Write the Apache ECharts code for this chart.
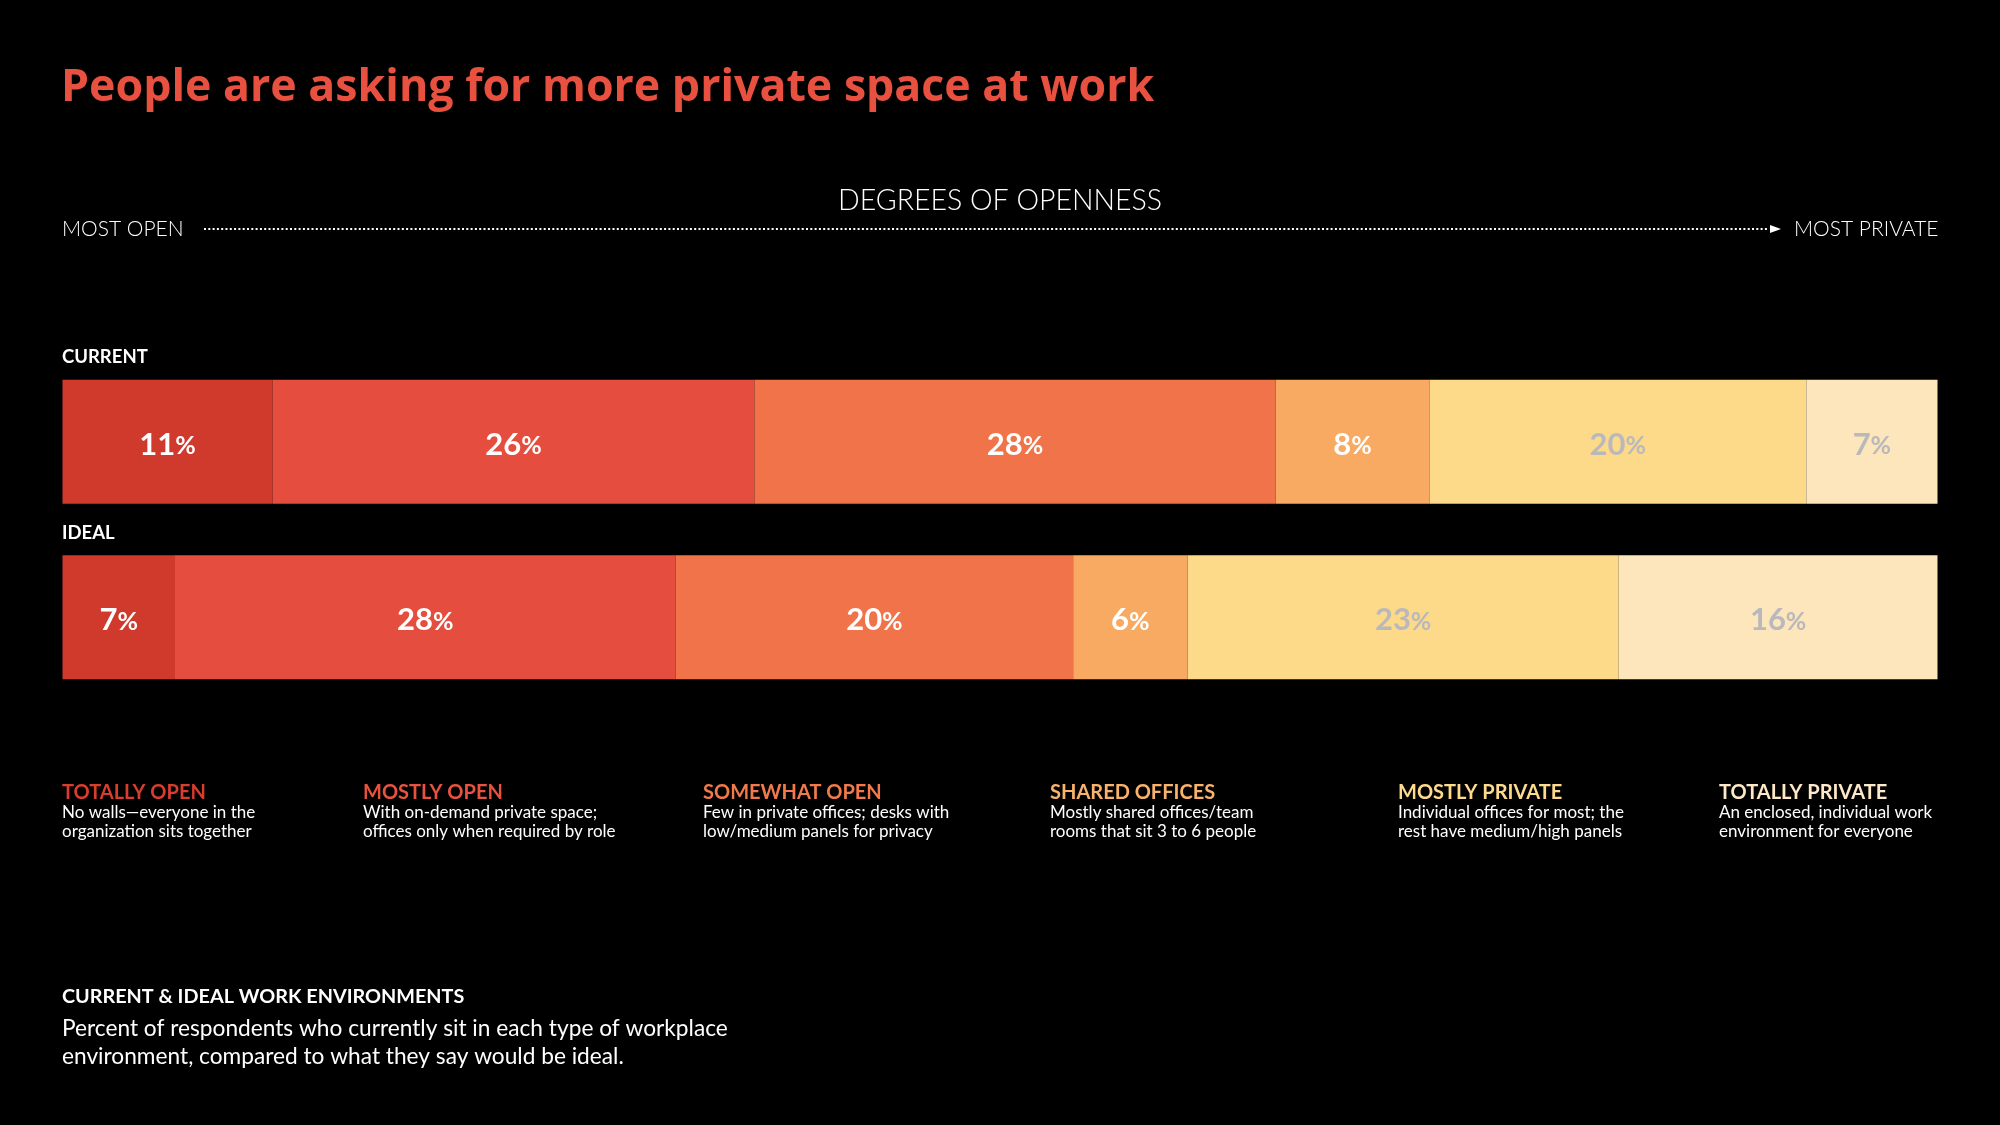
<!DOCTYPE html>
<html>
<head>
<meta charset="utf-8">
<script src="https://cdn.jsdelivr.net/npm/echarts@6/dist/echarts.min.js"></script>
<style>
html,body{margin:0;padding:0;background:#000;}
#chart{width:2000px;height:1125px;}
</style>
</head>
<body>
<div id="chart"></div>
<script>
// ---- data ----
const rows = ['CURRENT', 'IDEAL'];
const types = ['TOTALLY OPEN', 'MOSTLY OPEN', 'SOMEWHAT OPEN', 'SHARED OFFICES', 'MOSTLY PRIVATE', 'TOTALLY PRIVATE'];
// segment shares as drawn in the picture (bar widths)
const currentValues = [11.2, 25.7, 27.8, 8.2, 20.1, 7.0];
const idealValues = [6.0, 26.7, 21.2, 6.1, 23.0, 17.0];
// percentages printed on the segments
const currentLabels = [11, 26, 28, 8, 20, 7];
const idealLabels = [7, 28, 20, 6, 23, 16];
const descriptions = [
  ['No walls\u2014everyone in the', 'organization sits together'],
  ['With on-demand private space;', 'offices only when required by role'],
  ['Few in private offices; desks with', 'low/medium panels for privacy'],
  ['Mostly shared offices/team', 'rooms that sit 3 to 6 people'],
  ['Individual offices for most; the', 'rest have medium/high panels'],
  ['An enclosed, individual work', 'environment for everyone']
];

// ---- styles ----
const FONT = 'Lato';
const barColors = ['#CF3A2C', '#E54E3E', '#F07349', '#F8A962', '#FDD98A', '#FDE5BC'];
const labelColors = ['#FFFFFF', '#FFFFFF', '#FFFFFF', '#FFFFFF', '#B9B9BC', '#B9B9BC'];
const headColors = ['#D83D2E', '#E8533F', '#F07A4C', '#F8B26C', '#FDDA8C', '#FDE9C8'];
const legendX = [62, 363, 703, 1050, 1398, 1719];
const labelSets = [currentLabels, idealLabels];

const series = types.map((t, i) => ({
  name: t,
  type: 'bar',
  stack: 'all',
  barWidth: 124,
  data: [currentValues[i], idealValues[i]],
  itemStyle: { color: barColors[i] },
  emphasis: { disabled: true },
  label: {
    show: true,
    position: 'inside',
    offset: [0, 3],
    formatter: p => '{n|' + labelSets[p.dataIndex][i] + '}{p|%}',
    rich: {
      n: { fontFamily: FONT, fontWeight: 'bold', fontSize: 31, color: labelColors[i] },
      p: { fontFamily: FONT, fontWeight: 'bold', fontSize: 25, color: labelColors[i], padding: [3, 0, 0, 0] }
    }
  }
}));

const graphics = [];
function txt(text, x, y, size, color, weight, align, family) {
  graphics.push({
    type: 'text', x: x, y: y, silent: true,
    style: { text: text, fontFamily: family || FONT, fontSize: size, fill: color, fontWeight: weight || 'normal',
      textAlign: align || 'left', textVerticalAlign: 'middle' }
  });
}
txt('People are asking for more private space at work', 61, 88, 44.7, '#E8503F', 'bold', 'left', 'Open Sans');
txt('DEGREES OF OPENNESS', 1000, 201, 28.5, '#FFFFFF', 300, 'center');
txt('MOST OPEN', 62, 229, 21, '#FFFFFF', 300);
txt('MOST PRIVATE', 1794, 229, 21, '#FFFFFF', 300);
graphics.push({ type: 'line', silent: true, shape: { x1: 204, y1: 229, x2: 1768, y2: 229 },
  style: { stroke: '#FFFFFF', lineWidth: 2, lineDash: [2, 2.3] } });
graphics.push({ type: 'polygon', silent: true, shape: { points: [[1770, 225], [1781, 229], [1770, 233]] },
  style: { fill: '#FFFFFF' } });
txt(rows[0], 62, 357, 18.5, '#FFFFFF', 'bold');
txt(rows[1], 62, 533, 18.5, '#FFFFFF', 'bold');
types.forEach((t, i) => {
  txt(t, legendX[i], 793, 20, headColors[i], 'bold');
  txt(descriptions[i][0], legendX[i], 813, 17, '#FFFFFF', 'normal');
  txt(descriptions[i][1], legendX[i], 832, 17, '#FFFFFF', 'normal');
});
txt('CURRENT & IDEAL WORK ENVIRONMENTS', 62, 997, 19.8, '#FFFFFF', 'bold');
txt('Percent of respondents who currently sit in each type of workplace', 62, 1029, 22.7, '#FFFFFF', 'normal');
txt('environment, compared to what they say would be ideal.', 62, 1057, 22.7, '#FFFFFF', 'normal');

const chart = echarts.init(document.getElementById('chart'), null, { renderer: 'canvas' });
chart.setOption({
  backgroundColor: '#000000',
  animation: false,
  grid: { left: 62.5, right: 62.5, top: 354, height: 351 },
  xAxis: { type: 'value', min: 0, max: 100, show: false },
  yAxis: { type: 'category', data: rows, inverse: true, show: false },
  series: series,
  graphic: graphics
});
</script>
</body>
</html>
